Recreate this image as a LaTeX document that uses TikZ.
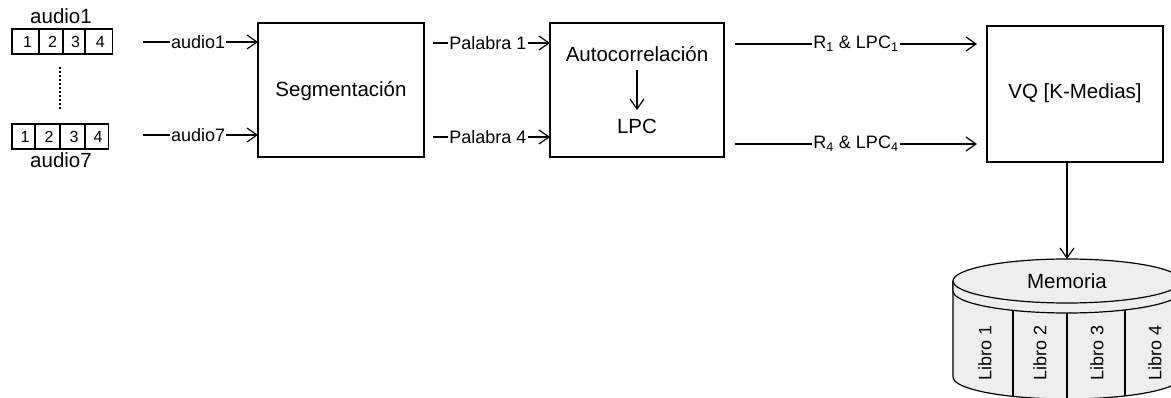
\documentclass[tikz,border=0pt]{standalone}
\usepackage{fontspec}
\setmainfont{Liberation Sans}
\usetikzlibrary{arrows.meta}
\definecolor{cylfill}{HTML}{EEEEEE}
\tikzset{
  every node/.style={inner sep=0pt, outer sep=0pt},
  big/.style={font=\fontsize{20.5}{24}\selectfont},
  small/.style={font=\fontsize{18}{21}\selectfont},
  digit/.style={font=\fontsize{16}{19}\selectfont},
  blockbox/.style={draw, line width=1.4pt, big, align=center},
  cell/.style={draw, line width=1.2pt, digit, minimum height=25pt, anchor=north west},
  lbl/.style={small, fill=white, inner xsep=1pt},
  arr/.style={line width=1.2pt, -{Straight Barb[length=10pt,width=14pt,line width=1.2pt]}},
  rot/.style={small, rotate=90},
}
\begin{document}
\begin{tikzpicture}[x=1pt,y=-1pt]
\path[use as bounding box] (0,0) rectangle (1171,398);
\clip (0,0) rectangle (1171,398);

% audio arrays
\node[big] (a1lab) at (61,16) {audio1};
\node[cell, minimum width=27pt] (c11) at (12,29) {\hspace{4pt}1};
\node[cell, minimum width=24pt] (c12) at (39,29) {\hspace{3pt}2};
\node[cell, minimum width=22pt] (c13) at (63,29) {\hspace{3pt}3};
\node[cell, minimum width=27.5pt] (c14) at (85,29) {\hspace{3pt}4};

\node[cell, minimum width=23.3pt] (c71) at (12,124) {\hspace{3pt}1};
\node[cell, minimum width=25pt] (c72) at (35,124) {\hspace{3pt}2};
\node[cell, minimum width=25pt] (c73) at (60,124) {\hspace{3pt}3};
\node[cell, minimum width=23.3pt] (c74) at (85,124) {\hspace{3pt}4};
\node[big] (a7lab) at (61,160) {audio7};

\coordinate (dtop) at (60,67);
\coordinate (dbot) at (60,110);
\draw[line width=1.2pt, dash pattern=on 2pt off 2pt] (dtop) -- (dbot);

% blocks
\node[blockbox, minimum width=166pt, minimum height=134pt] (seg) at (341,90) {};
\node[big] (segt) at (341,91) {Segmentación};

\node[blockbox, minimum width=174pt, minimum height=134pt] (ac) at (637,90) {};
\node[big] (act) at (637,54) {Autocorrelación};
\node[big] (lpc) at (637,126) {LPC};
\coordinate (acs) at (637,70);
\coordinate (ace) at (637,110);
\draw[arr] (acs) -- (ace);

\node[blockbox, minimum width=176pt, minimum height=136pt] (vq) at (1075,94) {};
\node[big] (vqt) at (1075,93) {VQ [K-Medias]};

% audio arrows
\coordinate (s1) at (143,42);
\coordinate (s7) at (143,135);
\draw[arr] (s1) -- (s1 -| seg.west) node[lbl, pos=0.48] (l1) {audio1};
\draw[arr] (s7) -- (s7 -| seg.west) node[lbl, pos=0.48] (l7) {audio7};

% palabra arrows
\coordinate (p1) at (433,43);
\coordinate (p4) at (433,137);
\draw[arr] (p1) -- (p1 -| ac.west) node[lbl, pos=0.47] (lp1) {Palabra 1};
\draw[arr] (p4) -- (p4 -| ac.west) node[lbl, pos=0.47] (lp4) {Palabra 4};

% R & LPC arrows
\coordinate (r1s) at (735,44);
\coordinate (r1e) at (977,44);
\coordinate (r4s) at (735,144);
\coordinate (r4e) at (977,144);
\draw[arr] (r1s) -- (r1e) node[lbl, pos=0.5] (lr1) {R\textsubscript{1} \& LPC\textsubscript{1}};
\draw[arr] (r4s) -- (r4e) node[lbl, pos=0.5] (lr4) {R\textsubscript{4} \& LPC\textsubscript{4}};

% cylinder
\draw[line width=1.2pt, fill=cylfill] (953,281) -- (953,377)
  arc[start angle=180, end angle=0, x radius=114, y radius=22] -- (1181,281);
\draw[line width=1.2pt, fill=cylfill] (953,281) -- (953,291)
  arc[start angle=180, end angle=0, x radius=114, y radius=22] -- (1181,281);
\draw[line width=1.2pt, fill=cylfill] (1067,281) ellipse[x radius=114, y radius=22];
\draw[line width=1.2pt] (1013,310.4) -- (1013,396.4);
\draw[line width=1.2pt] (1067,313) -- (1067,399);
\draw[line width=1.2pt] (1125,310) -- (1125,396);
\node[big] (mem) at (1067,281) {Memoria};
\node[rot] (lb1) at (985,353) {Libro 1};
\node[rot] (lb2) at (1040,353) {Libro 2};
\node[rot] (lb3) at (1097,353) {Libro 3};
\node[rot] (lb4) at (1155,353) {Libro 4};
\coordinate (memtop) at (1067,259);
\draw[arr] (memtop |- vq.south) -- (memtop);
\end{tikzpicture}
\end{document}
